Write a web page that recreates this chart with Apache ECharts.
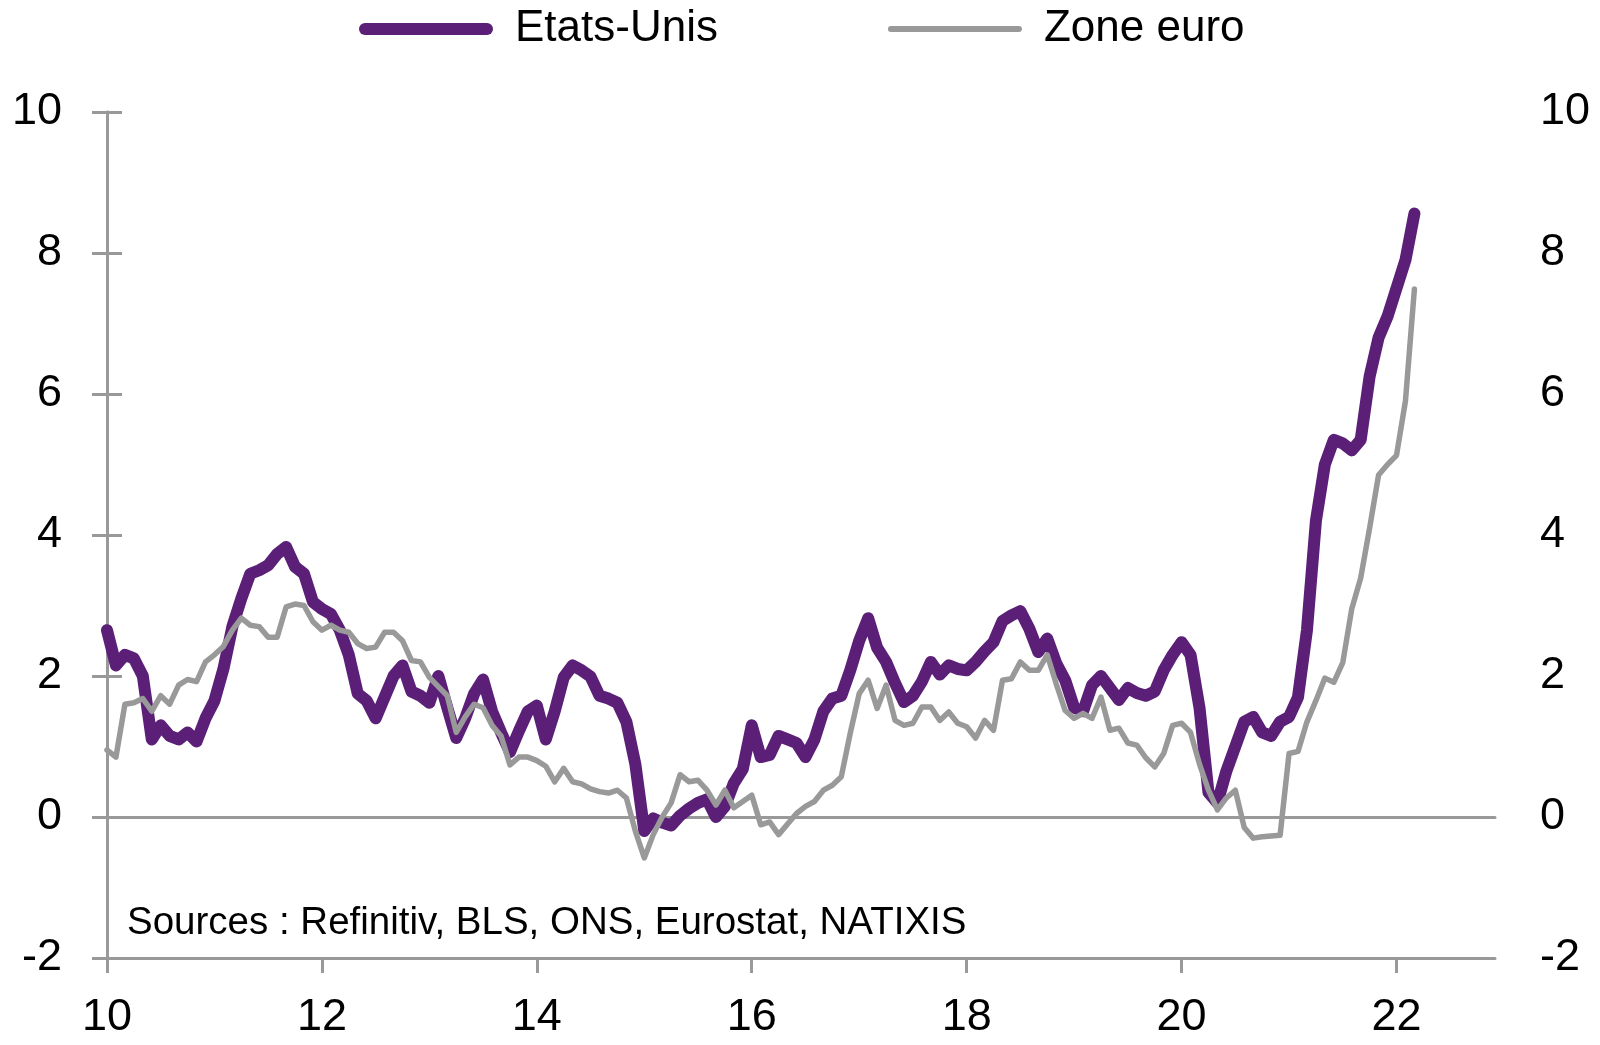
<!DOCTYPE html>
<html>
<head>
<meta charset="utf-8">
<title>Inflation Etats-Unis / Zone euro</title>
<script src="https://cdn.jsdelivr.net/npm/echarts@6/dist/echarts.min.js"></script>
<style>
  html, body { margin: 0; padding: 0; background: #fff; }
  #chart { width: 1600px; height: 1045px; }
</style>
</head>
<body>
<div id="chart"></div>
<script>
// glissement annuel en %, mensuel de janv. 2010 a mars 2022
var etatsUnis = [
  2.65, 2.15, 2.3, 2.25, 2.0, 1.1, 1.3, 1.15, 1.1, 1.2, 1.07, 1.4,
  1.65, 2.1, 2.7, 3.1, 3.45, 3.5, 3.57, 3.73, 3.83, 3.55, 3.45, 3.05,
  2.95, 2.88, 2.65, 2.3, 1.75, 1.65, 1.4, 1.7, 2.0, 2.15, 1.78, 1.72,
  1.62, 2.0, 1.55, 1.12, 1.4, 1.75, 1.95, 1.5, 1.2, 0.92, 1.22, 1.5,
  1.58, 1.1, 1.5, 1.98, 2.15, 2.08, 1.99, 1.72, 1.68, 1.62, 1.35, 0.75,
  -0.2, -0.02, -0.08, -0.12, 0.02, 0.12, 0.2, 0.25, 0.0, 0.15, 0.48, 0.68,
  1.3, 0.85, 0.88, 1.15, 1.1, 1.05, 0.85, 1.1, 1.5, 1.68, 1.72, 2.08,
  2.5, 2.82, 2.4, 2.2, 1.9, 1.63, 1.72, 1.92, 2.2, 2.02, 2.15, 2.1,
  2.08, 2.2, 2.35, 2.48, 2.78, 2.86, 2.92, 2.67, 2.34, 2.53, 2.18, 1.94,
  1.55, 1.5, 1.87, 2.0, 1.83, 1.66, 1.83, 1.76, 1.72, 1.78, 2.08, 2.3,
  2.48, 2.3, 1.55, 0.35, 0.2, 0.65, 1.0, 1.35, 1.42, 1.2, 1.15, 1.35,
  1.42, 1.7, 2.65, 4.2, 5.0, 5.35, 5.3, 5.2, 5.35, 6.25, 6.8, 7.1,
  7.5, 7.9, 8.56
];
var zoneEuro = [
  0.95, 0.85, 1.6, 1.62, 1.68, 1.5, 1.72, 1.6, 1.87, 1.95, 1.92, 2.2,
  2.3, 2.42, 2.65, 2.82, 2.72, 2.7, 2.55, 2.55, 2.98, 3.02, 3.0, 2.77,
  2.65, 2.72, 2.65, 2.62, 2.46, 2.39, 2.41, 2.62, 2.62, 2.5, 2.22, 2.2,
  1.98, 1.85, 1.72, 1.2, 1.42, 1.6, 1.55, 1.3, 1.15, 0.74, 0.85, 0.85,
  0.8, 0.72, 0.5, 0.69, 0.5, 0.47, 0.4, 0.36, 0.34, 0.38, 0.27, -0.2,
  -0.58, -0.25, 0.0, 0.2, 0.6, 0.5, 0.52, 0.38, 0.17, 0.38, 0.13, 0.22,
  0.31, -0.11, -0.07, -0.25, -0.1, 0.05, 0.15, 0.22, 0.38, 0.45, 0.57, 1.19,
  1.75, 1.94, 1.54, 1.87, 1.37, 1.3, 1.33, 1.56, 1.56, 1.37, 1.49, 1.33,
  1.28, 1.12, 1.37, 1.23, 1.94, 1.96, 2.2, 2.08, 2.08, 2.3, 1.89, 1.51,
  1.4, 1.47, 1.4, 1.7, 1.23, 1.26, 1.05, 1.02, 0.84, 0.71, 0.9, 1.3,
  1.33, 1.2, 0.75, 0.38, 0.1, 0.27, 0.38, -0.15, -0.3, -0.28, -0.27, -0.26,
  0.9, 0.93, 1.35, 1.65, 1.97, 1.91, 2.19, 2.95, 3.39, 4.1, 4.85, 5.0,
  5.13, 5.9, 7.49
];
var anneesLabels = ['10', '12', '14', '16', '18', '20', '22'];
var yTicks = [-2, 0, 2, 4, 6, 8, 10];
var source = 'Sources : Refinitiv, BLS, ONS, Eurostat, NATIXIS';

// mois depuis janvier 2010
var mois = etatsUnis.map(function (v, i) { return i; });
var tickMois = anneesLabels.map(function (l, i) { return i * 24; });

var violet = '#5b1f78';
var gris = '#999999';
var police = '"Liberation Sans", Arial, sans-serif';

function paires(vals) {
    return mois.map(function (m, i) { return [m, vals[i]]; });
}

var chart = echarts.init(document.getElementById('chart'));

var yAxisCommun = {
    type: 'value',
    min: yTicks[0],
    max: yTicks[yTicks.length - 1],
    interval: 2,
    axisLine: { show: true, lineStyle: { color: gris, width: 3 } },
    axisTick: { show: true, length: 15, lineStyle: { color: gris, width: 3 } },
    axisLabel: { color: '#000', fontSize: 45, fontFamily: police, margin: 45 },
    splitLine: { show: false }
};

var option = {
    animation: false,
    backgroundColor: '#fff',
    textStyle: { fontFamily: police },
    grid: {
        left: 107, right: 105, top: 112, bottom: 87,
        containLabel: false,
        outerBoundsMode: 'none'
    },
    legend: {
        left: 354,
        top: 2,
        itemWidth: 134,
        itemHeight: 14,
        itemGap: 170,
        data: [
            { name: 'Etats-Unis', icon: 'path://M6,0 H128 A6,6 0 0 1 128,12 H6 A6,6 0 0 1 6,0 Z' },
            { name: 'Zone euro', icon: 'path://M3,0 H131 A3,3 0 0 1 131,6 H3 A3,3 0 0 1 3,0 Z' }
        ],
        itemStyle: { borderWidth: 0 },
        textStyle: { color: '#000', fontSize: 44, fontFamily: police, padding: [0, 0, 0, 17] }
    },
    graphic: [{
        type: 'text',
        x: 127,
        y: 923,
        style: {
            text: source,
            fill: '#000',
            font: '38.5px ' + police,
            verticalAlign: 'middle'
        }
    }],
    xAxis: [{
        type: 'value',
        min: 0,
        max: 155,
        interval: 24,
        axisLine: { show: true, onZero: false, lineStyle: { color: gris, width: 3 } },
        axisTick: { show: true, length: 15, customValues: tickMois, lineStyle: { color: gris, width: 3 } },
        axisLabel: {
            color: '#000', fontSize: 45, fontFamily: police, margin: 37,
            customValues: tickMois,
            formatter: function (v) { return anneesLabels[Math.round(v / 24)] || ''; }
        },
        splitLine: { show: false }
    }, {
        // ligne du zero
        type: 'value',
        min: 0,
        max: 155,
        position: 'bottom',
        axisLine: { show: true, onZero: true, onZeroAxisIndex: 0, lineStyle: { color: gris, width: 3 } },
        axisTick: { show: false },
        axisLabel: { show: false },
        splitLine: { show: false }
    }],
    yAxis: [
        Object.assign({}, yAxisCommun, { position: 'left' }),
        Object.assign({}, yAxisCommun, { position: 'right' })
    ],
    series: [
        {
            name: 'Etats-Unis',
            type: 'line',
            xAxisIndex: 0,
            yAxisIndex: 0,
            data: paires(etatsUnis),
            showSymbol: false,
            symbol: 'none',
            color: violet,
            lineStyle: { color: violet, width: 12, cap: 'round', join: 'round' },
            z: 2
        },
        {
            name: 'Zone euro',
            type: 'line',
            xAxisIndex: 0,
            yAxisIndex: 0,
            data: paires(zoneEuro),
            showSymbol: false,
            symbol: 'none',
            color: gris,
            lineStyle: { color: gris, width: 5.5, cap: 'round', join: 'round' },
            z: 3
        }
    ]
};

chart.setOption(option);
</script>
</body>
</html>
